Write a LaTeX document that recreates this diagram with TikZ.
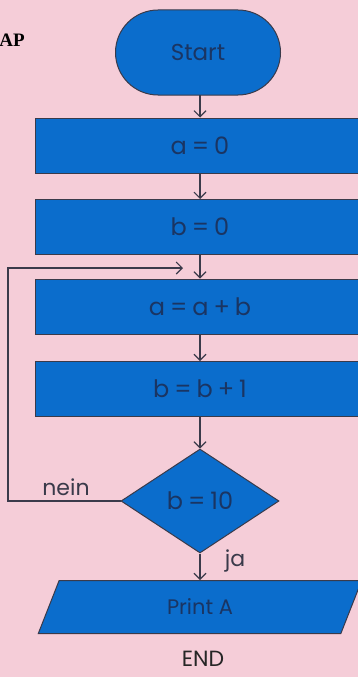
\documentclass[tikz,border=0pt]{standalone}
\usepackage{fontspec}
\setmainfont{Poppins}
\newfontfamily\serifbold{Liberation Serif}
\usetikzlibrary{shapes.geometric,shapes.misc,arrows.meta}
\definecolor{bgpink}{HTML}{F5CDD8}
\definecolor{boxblue}{HTML}{0B6DCC}
\definecolor{txtblue}{HTML}{1A3563}
\definecolor{linec}{HTML}{3A3A4A}
\newcommand{\eqs}{\hspace{5pt}=\hspace{5pt}}
\newcommand{\pls}{\hspace{5pt}+\hspace{5pt}}
\tikzset{
  x=1pt, y=-1pt,
  shp/.style={draw=linec, fill=boxblue, line width=1pt, text=txtblue, font=\fontsize{24}{28}\selectfont, inner sep=0pt},
  procbox/.style={shp, rectangle, minimum width=330pt, minimum height=55pt},
  conn/.style={draw=linec, line width=1.1pt, -{Straight Barb[length=6pt,width=12pt,line width=1.1pt]}},
  lbl/.style={text=linec, font=\fontsize{22}{26}\selectfont, inner sep=0pt}
}
\begin{document}
\begin{tikzpicture}
\useasboundingbox (0,0) rectangle (358,677);
\clip (0,0) rectangle (358,677);
\fill[bgpink] (0,0) rectangle (358,677);
\node[anchor=east, text=black, font=\serifbold\bfseries\fontsize{19}{22}\selectfont, inner sep=0pt] (ap) at (25,40) {AP};
\node[shp, rounded rectangle, minimum width=165pt, minimum height=85pt, font=\fontsize{23}{27}\selectfont] (start) at (198,52.5) {Start};
\node[procbox] (b1) at (200,145.5) {a\eqs 0};
\node[procbox] (b2) at (200,227) {b\eqs 0};
\node[procbox] (b3) at (200,306.5) {a\eqs a\pls b};
\node[procbox] (b4) at (200,389) {b\eqs b\pls 1};
\node[shp, diamond, minimum width=158pt, minimum height=104pt] (dec) at (200,501) {b\eqs 10};
\node[shp, trapezium, trapezium left angle=73, trapezium right angle=107, trapezium stretches=true, minimum width=326pt, minimum height=53pt, font=\fontsize{21}{25}\selectfont] (print) at (200,607) {Print A};
\node[lbl, text=black!85, font=\fontsize{22}{26}\selectfont] (endt) at (203,659) {END};
\node[lbl] (nein) at (66,487) {nein};
\node[lbl] (ja) at (235,561) {ja};
\coordinate (lb) at (8,501);
\coordinate (lt) at (8,268);
\coordinate (lin) at (183,268);
\draw[conn] (200,95) -- (b1.north);
\draw[conn] (b1.south) -- (b2.north);
\draw[conn] (b2.south) -- (b3.north);
\draw[conn] (b3.south) -- (b4.north);
\draw[conn] (b4.south) -- (dec.north);
\draw[conn] (dec.south) -- (200,580);
\draw[conn] (dec.west) -- (lb) -- (lt) -- (lin);
\end{tikzpicture}
\end{document}
